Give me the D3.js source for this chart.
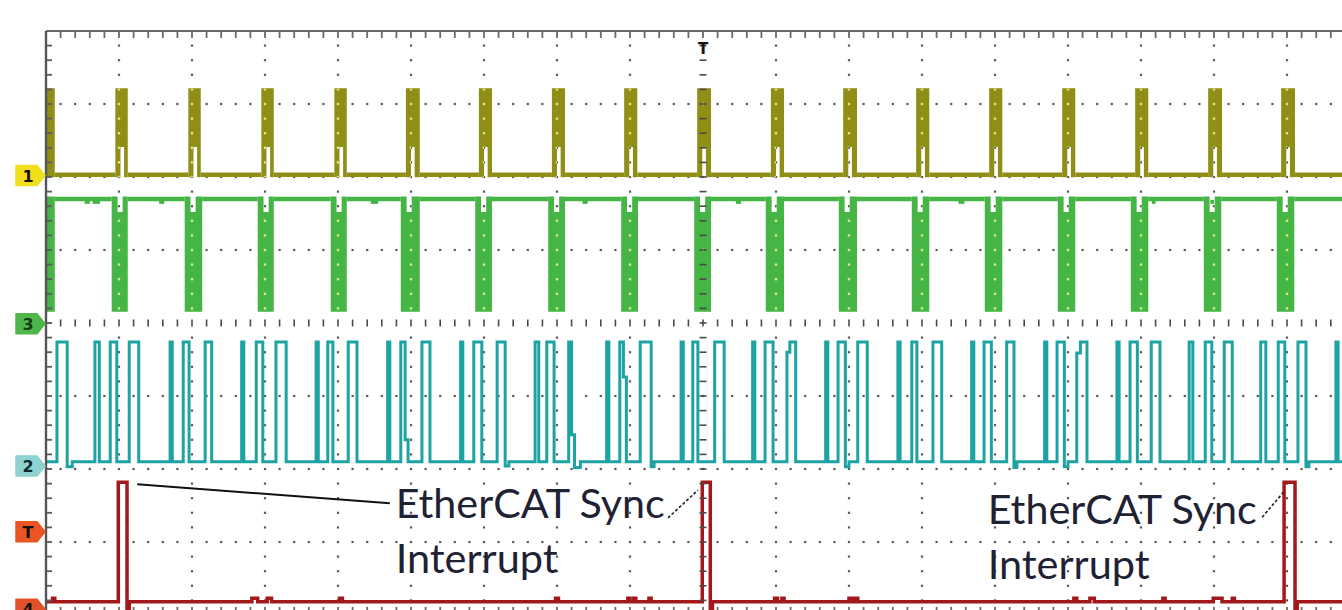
<!DOCTYPE html>
<html><head><meta charset="utf-8">
<script src="https://cdn.jsdelivr.net/npm/d3@7/dist/d3.min.js"></script>
<style>body{margin:0;background:#fff;overflow:hidden}svg{display:block}</style>
</head><body>
<svg id="c" width="1342" height="610"></svg>
<script>
// ---------- DATA (time in divisions, level in divisions from screen centre) ----------
const xDivs = [0, 18];
const yDivs = [-4, 4];

// Channel 1 (olive): burst windows [start, end]
const ch1Levels = {lo: 2.03, hi: 3.19, notch: 2.41};
const ch1Bursts = [[-0.2,0.12],[0.95,1.12],[1.95,2.12],[2.95,3.12],[3.95,4.12],[4.93,5.12],[5.93,6.11],[6.93,7.11],[7.92,8.10],[8.92,9.11],[9.93,10.11],[10.92,11.11],[11.92,12.10],[12.92,13.10],[13.92,14.10],[14.92,15.10],[15.92,16.11],[16.92,17.11],[17.92,18.10]];
const ch1Notch = [0.07, 0.12];

// Channel 3 (green): burst windows [start, end]
const ch3Levels = {hi: 1.70, lo: 0.18, notch: 1.52};
const ch3Bursts = [[-0.2,0.12],[0.90,1.12],[1.90,2.14],[2.90,3.12],[3.90,4.12],[4.86,5.12],[5.88,6.11],[6.88,7.11],[7.88,8.11],[8.88,9.11],[9.86,10.11],[10.86,11.11],[11.86,12.10],[12.86,13.10],[13.86,14.10],[14.86,15.10],[15.86,16.10],[16.86,17.10],[17.86,18.10]];
const ch3Notch = [0.08, 0.15];
const ch3Dips = [[0.53,0.60],[0.64,0.74],[1.55,1.62],[4.45,4.55],[7.35,7.42],[9.45,9.52],[12.5,12.58],[15.15,15.2],[15.95,16.0]];

// Channel 2 (teal): edges [time, new level]
const TH = -0.26, TL = -1.90;
const ch2Start = TL;
const ch2Edges = [
 [0.15,TH],[0.29,-1.97],[0.36,TL],
 [0.67,TH],[0.73,TL],[0.88,TH],[0.97,TL],[1.14,TH],[1.27,TL],
 [1.70,TH],[1.73,TL],[1.88,TH],[1.96,TL],[2.18,TH],[2.27,TL],
 [2.68,TH],[2.71,TL],[2.88,TH],[2.97,TL],[3.15,TH],[3.29,TL],
 [3.70,TH],[3.73,TL],[3.86,TH],[3.93,TL],[4.14,TH],[4.26,TL],
 [4.68,TH],[4.71,TL],[4.86,TH],[4.92,-1.60],[4.96,TL],[5.15,TH],[5.26,TL],
 [5.68,TH],[5.71,TL],[5.86,TH],[5.97,TL],[6.18,TH],[6.29,-1.96],[6.34,TL],
 [6.70,TH],[6.75,TL],[6.86,TH],[6.96,TL],[7.16,TH],[7.20,-1.53],[7.24,-1.98],[7.32,TL],
 [7.68,TH],[7.71,TL],[7.86,TH],[7.91,-0.74],[7.95,TL],[8.14,TH],[8.29,-1.97],[8.33,TL],
 [8.70,TH],[8.73,TL],[8.86,TH],[8.93,TL],[9.16,TH],[9.29,TL],
 [9.68,TH],[9.71,TL],[9.85,TH],[9.96,TL],[10.15,-0.40],[10.19,TH],[10.27,TL],
 [10.68,TH],[10.71,TL],[10.85,TH],[10.95,-1.97],[11.0,TL],[11.12,TH],[11.25,TL],
 [11.67,TH],[11.70,TL],[11.86,TH],[11.93,TL],[12.15,TH],[12.27,TL],
 [12.68,TH],[12.71,TL],[12.85,TH],[12.95,TL],[13.16,TH],[13.26,-1.98],[13.30,TL],
 [13.68,TH],[13.71,TL],[13.85,TH],[13.95,-1.97],[14.0,TL],[14.12,-0.41],[14.17,TH],[14.26,TL],
 [14.67,TH],[14.70,TL],[14.85,TH],[14.95,TL],[15.14,TH],[15.26,TL],
 [15.66,TH],[15.71,TL],[15.88,TH],[15.97,TL],[16.14,TH],[16.25,TL],
 [16.64,TH],[16.71,TL],[16.88,TH],[16.97,TL],[17.15,TH],[17.26,-1.97],[17.30,TL],
 [17.67,TH],[17.70,TL]
];

// Channel 4 (red): sync pulses [rise, fall], baseline bumps [start, end]
const ch4Levels = {lo: -3.82, hi: -2.18, bump: -3.77, under: -3.93};
const ch4Pulses = [[0.99,1.11],[8.99,9.10],[16.96,17.11]];
const ch4Bumps = [[0.09,0.12],[2.82,2.90],[3.03,3.09],[4.02,4.06],[6.98,7.02],[7.97,8.00],[8.05,8.08],[8.26,8.29],[9.98,10.02],[10.08,10.11],[11.0,11.04],[11.08,11.12],[14.08,14.12],[14.30,14.36],[15.30,15.33],[15.99,16.11],[16.25,16.28]];

// Channel markers
const markers = [
 {label:"1", level:2.02, color:"#f1df1c", text:"#111"},
 {label:"3", level:-0.01, color:"#4fb64b", text:"#153d15"},
 {label:"2", level:-1.96, color:"#8fd2d2", text:"#0f2a2a"},
 {label:"T", level:-2.86, color:"#eb5423", text:"#111"},
 {label:"4", level:-3.92, color:"#e2522a", text:"#111"}
];
const triggerTime = 9;

// Annotations
const notes = [
 {lines:["EtherCAT Sync","Interrupt"], t:4.79, levels:[-2.67,-3.42]},
 {lines:["EtherCAT Sync","Interrupt"], t:12.90, levels:[-2.75,-3.51]}
];
const solidLeaders = [[[1.25,-2.21],[4.71,-2.47]]];
const dashedLeaders = [[[8.52,-2.67],[8.93,-2.29]],[[16.66,-2.66],[16.95,-2.32]]];

// ---------- DRAW ----------
const x = d3.scaleLinear().domain(xDivs).range([46,1360]);
const y = d3.scaleLinear().domain(yDivs).range([615,31]);
const svg = d3.select('#c');
const defs = svg.append('defs');
defs.append('clipPath').attr('id','plot').append('rect')
  .attr('x',x(0)).attr('y',y(4)).attr('width',x(18)-x(0)).attr('height',y(-4)-y(4));

const minor = 0.2;
const dotsData = [];
for (let j=-3;j<=3;j++){ if(j===0) continue; for(let i=1;i<90;i++) dotsData.push([i*minor,j]); }
for (let k=1;k<18;k++){ if(k===triggerTime) continue; for(let i=1;i<40;i++){ const v=-4+i*minor; if (Math.abs(Math.round(v)-v)<1e-6) continue; dotsData.push([k,v]); } }

// grid dots (under traces)
const grid = svg.append('g').attr('clip-path','url(#plot)');
grid.selectAll('rect.d').data(dotsData).join('rect')
  .attr('x',d=>x(d[0])-1.1).attr('y',d=>y(d[1])-1.1).attr('width',2.2).attr('height',2.2).attr('fill','#5a5a5a');

const line = d3.line();
const traces = svg.append('g').attr('clip-path','url(#plot)');

// ch1 burst polygons
function ch1Poly(b){
  const [a,e]=b, top=y(ch1Levels.hi)-2, bot=y(ch1Levels.lo)+2.5;
  const pts=[[x(a),bot],[x(a),top],[x(e),top],[x(e),bot]];
  if(a>0){ const n1=x(a+ch1Notch[0]), n2=x(a+ch1Notch[1]), ny=y(ch1Levels.notch); pts.push([n2,bot],[n2,ny],[n1,ny],[n1,bot]); }
  return line(pts)+'Z';
}
function ch3Poly(b){
  const [a,e]=b, top=y(ch3Levels.hi)-2.5, bot=y(ch3Levels.lo)+2;
  let pts;
  if(a>0){ const n1=x(a+ch3Notch[0]), n2=x(a+ch3Notch[1]), ny=y(ch3Levels.notch);
    pts=[[x(a),top],[n1,top],[n1,ny],[n2,ny],[n2,top],[x(e),top],[x(e),bot],[x(a),bot]]; }
  else pts=[[x(a),top],[x(e),top],[x(e),bot],[x(a),bot]];
  return line(pts)+'Z';
}
const C1 = '#8f8f18', C3 = '#45b545', C2 = '#1ea3a3', C4 = '#a3191b';

// ch1 baseline
const ch1Base = ch1Bursts.slice(0,-1).map((b,i)=>[[x(b[1]),y(ch1Levels.lo)],[x(ch1Bursts[i+1][0]),y(ch1Levels.lo)]]);
traces.selectAll('path.c1b').data(ch1Base).join('path').attr('d',d=>line(d)).attr('stroke',C1).attr('stroke-width',4.5).attr('fill','none');
traces.selectAll('path.c1').data(ch1Bursts).join('path').attr('d',ch1Poly).attr('fill',C1);

// ch3 high line
const ch3Base = ch3Bursts.slice(0,-1).map((b,i)=>[[x(b[1]),y(ch3Levels.hi)],[x(ch3Bursts[i+1][0]),y(ch3Levels.hi)]]);
traces.selectAll('path.c3b').data(ch3Base).join('path').attr('d',d=>line(d)).attr('stroke',C3).attr('stroke-width',4.5).attr('fill','none');
traces.selectAll('path.c3d').data(ch3Dips).join('path').attr('d',d=>line([[x(d[0]),y(ch3Levels.hi)+3],[x(d[1]),y(ch3Levels.hi)+3]])).attr('stroke',C3).attr('stroke-width',4).attr('fill','none');
traces.selectAll('path.c3').data(ch3Bursts).join('path').attr('d',ch3Poly).attr('fill',C3);

// ch2 step trace
(function(){
  let lvl=ch2Start; const pts=[[x(-0.1),y(lvl)]];
  ch2Edges.forEach(([t,v])=>{ pts.push([x(t),y(lvl)]); pts.push([x(t),y(v)]); lvl=v; });
  pts.push([x(18.2),y(lvl)]);
  traces.append('path').attr('d',line(pts)).attr('fill','none').attr('stroke',C2).attr('stroke-width',3).attr('stroke-linejoin','miter');
})();

// ch4 step trace
(function(){
  const ev=[];
  ch4Pulses.forEach(([a,b])=>{ ev.push([a,ch4Levels.hi]); ev.push([b,ch4Levels.under]); ev.push([b+0.03,ch4Levels.lo]); });
  ch4Bumps.forEach(([a,b])=>{ ev.push([a,ch4Levels.bump]); ev.push([b,ch4Levels.lo]); });
  ev.sort((p,q)=>p[0]-q[0]);
  let lvl=ch4Levels.lo; const pts=[[x(-0.1),y(lvl)]];
  ev.forEach(([t,v])=>{ pts.push([x(t),y(lvl)]); pts.push([x(t),y(v)]); lvl=v; });
  pts.push([x(18.2),y(lvl)]);
  traces.append('path').attr('d',line(pts)).attr('fill','none').attr('stroke',C4).attr('stroke-width',3.5);
})();

// light dots over filled bursts
const cp = defs.append('clipPath').attr('id','bursts');
ch1Bursts.forEach(b=>cp.append('path').attr('d',ch1Poly(b)));
ch3Bursts.forEach(b=>cp.append('path').attr('d',ch3Poly(b)));
const over = svg.append('g').attr('clip-path','url(#plot)').append('g').attr('clip-path','url(#bursts)');
over.selectAll('rect').data(dotsData).join('rect')
  .attr('x',d=>x(d[0])-1.2).attr('y',d=>y(d[1])-1.2).attr('width',2.4).attr('height',2.4).attr('fill','#ffff9a').attr('opacity',0.75);

// centre line ticks, border, border ticks
const frame = svg.append('g').attr('stroke','#4a4a4a').attr('fill','none');
const minorX = d3.range(0, 18.001, minor), minorY = d3.range(-4, 4.001, minor);
minorX.forEach(t=>{
  frame.append('line').attr('x1',x(t)).attr('x2',x(t)).attr('y1',y(0)-3.5).attr('y2',y(0)+3.5).attr('stroke-width',1.6);
  frame.append('line').attr('x1',x(t)).attr('x2',x(t)).attr('y1',y(4)).attr('y2',y(4)+7).attr('stroke-width',1.8).attr('stroke','#6a6a6a');
  frame.append('line').attr('x1',x(t)).attr('x2',x(t)).attr('y1',y(-4)).attr('y2',y(-4)-8).attr('stroke-width',1.8).attr('stroke','#6a6a6a');
});
minorY.forEach(v=>{
  frame.append('line').attr('x1',x(triggerTime)-3.5).attr('x2',x(triggerTime)+3.5).attr('y1',y(v)).attr('y2',y(v)).attr('stroke-width',1.6);
  frame.append('line').attr('x1',x(0)).attr('x2',x(0)+6).attr('y1',y(v)).attr('y2',y(v)).attr('stroke-width',1.8).attr('stroke','#5a5a5a');
});
frame.append('line').attr('x1',x(0)).attr('x2',x(18)).attr('y1',y(4)).attr('y2',y(4)).attr('stroke','#6a6a6a').attr('stroke-width',2);
frame.append('line').attr('x1',x(0)).attr('x2',x(18)).attr('y1',y(-4)).attr('y2',y(-4)).attr('stroke','#6a6a6a').attr('stroke-width',2);
frame.append('line').attr('x1',x(0)).attr('x2',x(0)).attr('y1',y(4)).attr('y2',y(-4)).attr('stroke','#555').attr('stroke-width',2.4);

// trigger T on top
svg.append('text').attr('x',x(triggerTime)).attr('y',y(4)+23).attr('text-anchor','middle')
  .attr('font-family','DejaVu Sans, sans-serif').attr('font-weight','bold').attr('font-size',15).attr('fill','#111').text('T');

// channel flags
const fl = svg.append('g').selectAll('g').data(markers).join('g').attr('transform',d=>`translate(0,${y(d.level)})`);
fl.append('path').attr('d','M16,-10 H37 L45,0 L37,10 H16 Z').attr('fill',d=>d.color).attr('stroke',d=>d.color).attr('stroke-linejoin','round').attr('stroke-width',1.5);
fl.append('text').attr('x',28).attr('y',6).attr('text-anchor','middle').attr('font-family','DejaVu Sans, sans-serif')
  .attr('font-weight','bold').attr('font-size',16).attr('fill',d=>d.text).text(d=>d.label);

// annotations
const ann = svg.append('g');
solidLeaders.forEach(l=>ann.append('path').attr('d',line(l.map(p=>[x(p[0]),y(p[1])]))).attr('stroke','#111').attr('stroke-width',2).attr('fill','none'));
dashedLeaders.forEach(l=>ann.append('path').attr('d',line(l.map(p=>[x(p[0]),y(p[1])]))).attr('stroke','#222').attr('stroke-width',1.6).attr('stroke-dasharray','3,2').attr('fill','none'));
const textW = {"EtherCAT Sync":269, "Interrupt":162};
notes.forEach(n=>n.lines.forEach((s,i)=>{
  ann.append('text').attr('x',x(n.t)).attr('y',y(n.levels[i]))
    .attr('font-family','Lato, "Open Sans", sans-serif').attr('font-size',40).attr('fill','#1e2233')
    .attr('textLength',textW[s]).attr('lengthAdjust','spacingAndGlyphs').text(s);
}));
</script>
</body></html>
